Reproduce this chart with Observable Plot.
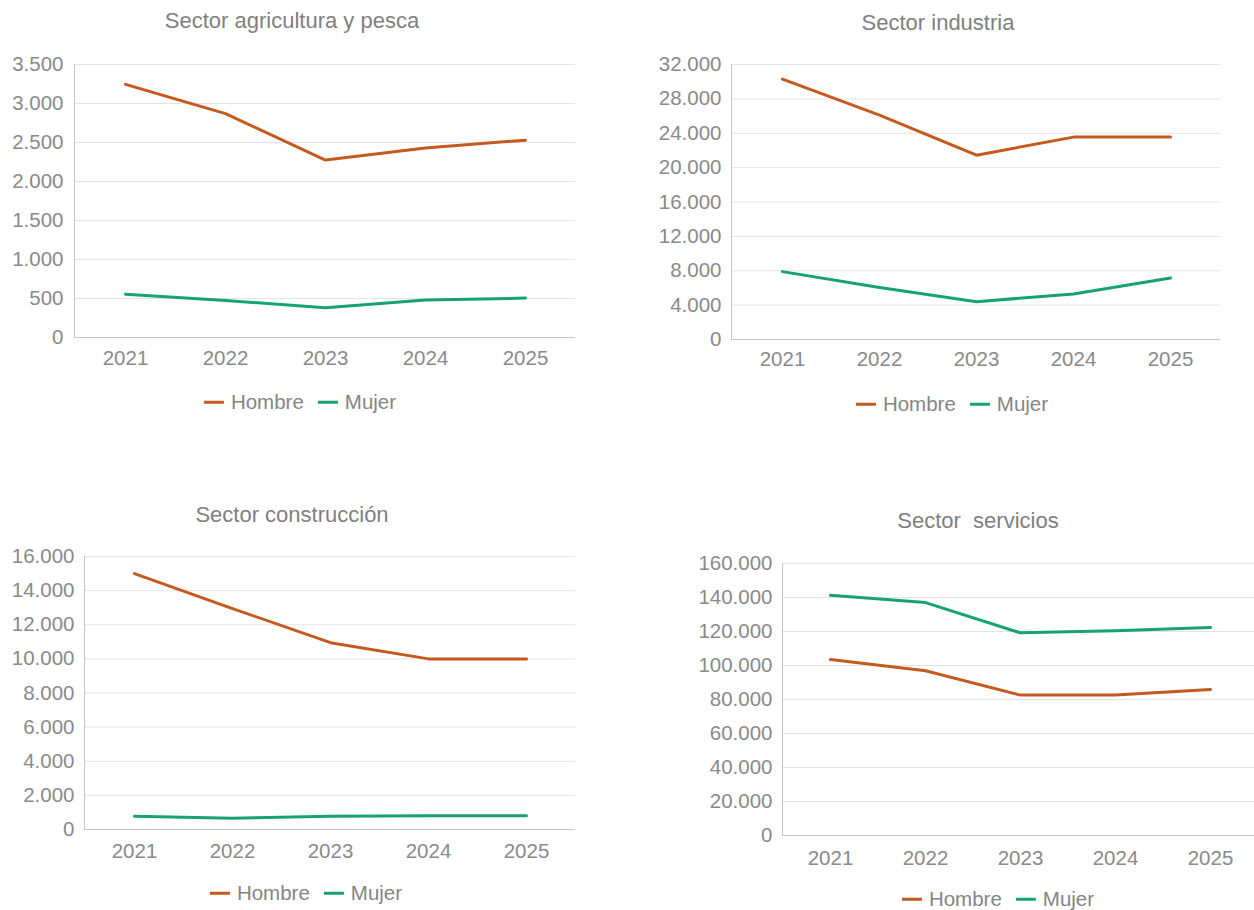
<!DOCTYPE html>
<html>
<head>
<meta charset="utf-8">
<script src="https://cdn.jsdelivr.net/npm/d3@7"></script>
<script src="https://cdn.jsdelivr.net/npm/@observablehq/plot@0.6"></script>
<style>
  html, body { margin: 0; padding: 0; background: #fff; overflow: hidden; }
  #root { position: relative; width: 1254px; height: 910px; font-family: "Liberation Sans", Arial, sans-serif; }
  .panel-svg { position: absolute; }
  .title { position: absolute; transform: translate(-50%, -50%); font-size: 22px; line-height: 1; color: #808080; white-space: pre; }
  .legend { position: absolute; transform: translate(-50%, -50%); display: flex; align-items: center; font-size: 20.5px; line-height: 1; color: #858585; white-space: nowrap; }
  .legend .sw { display: inline-block; width: 20px; height: 3px; margin-right: 7px; }
  .legend .item { display: flex; align-items: center; margin-right: 14px; }
  .legend .item:last-child { margin-right: 0; }
</style>
</head>
<body>
<div id="root"></div>
<script>
// ---- data ----
const years = ["2021", "2022", "2023", "2024", "2025"];
const series = ["Hombre", "Mujer"];
const seriesColors = ["#c55a1e", "#17a274"];

const titles = ["Sector agricultura y pesca", "Sector industria", "Sector construcción", "Sector  servicios"];

const agriculturaHombre = [3245, 2870, 2275, 2430, 2530];
const agriculturaMujer = [555, 475, 380, 480, 505];
const agriculturaTicks = [0, 500, 1000, 1500, 2000, 2500, 3000, 3500];

const industriaHombre = [30300, 26100, 21450, 23550, 23550];
const industriaMujer = [7900, 6050, 4400, 5300, 7150];
const industriaTicks = [0, 4000, 8000, 12000, 16000, 20000, 24000, 28000, 32000];

const construccionHombre = [15000, 12950, 10950, 10000, 10000];
const construccionMujer = [780, 660, 780, 800, 800];
const construccionTicks = [0, 2000, 4000, 6000, 8000, 10000, 12000, 14000, 16000];

const serviciosHombre = [103500, 96900, 82600, 82600, 85900];
const serviciosMujer = [141300, 137000, 119200, 120400, 122300];
const serviciosTicks = [0, 20000, 40000, 60000, 80000, 100000, 120000, 140000, 160000];

// ---- rendering ----
const fmt = d3.formatLocale({decimal: ",", thousands: ".", grouping: [3], currency: ["", "€"]}).format(",d");
const root = document.getElementById("root");

function buildPanel(cfg) {
  const data = years.flatMap((yr, i) => [
    {year: yr, sex: series[0], value: cfg.hombre[i]},
    {year: yr, sex: series[1], value: cfg.mujer[i]}
  ]);
  const ticks = cfg.ticks;
  const chart = Plot.plot({
    width: cfg.width,
    height: cfg.height,
    marginLeft: cfg.ml,
    marginRight: cfg.mr,
    marginTop: cfg.mt,
    marginBottom: cfg.mb,
    style: {fontFamily: '"Liberation Sans", Arial, sans-serif', fontSize: "20.5px", color: "#8a8a8a", background: "transparent", overflow: "visible"},
    x: {type: "point", domain: years, padding: 0.5, label: null},
    y: {domain: [0, ticks[ticks.length - 1]], label: null},
    color: {domain: series, range: seriesColors},
    marks: [
      Plot.gridY(ticks, {stroke: "#e4e4e4", strokeOpacity: 1, strokeWidth: 1}),
      Plot.frame({anchor: "left", stroke: "#c6c6c6"}),
      Plot.ruleY([0], {stroke: "#c6c6c6"}),
      Plot.axisY(ticks, {tickSize: 0, tickPadding: cfg.padY, tickFormat: fmt, label: null}),
      Plot.axisX({tickSize: 0, tickPadding: cfg.padX, label: null}),
      Plot.lineY(data, {x: "year", y: "value", stroke: "sex", strokeWidth: 3, strokeLinejoin: "round", strokeLinecap: "round"})
    ]
  });
  chart.classList.add("panel-svg");
  chart.style.left = cfg.left + "px";
  chart.style.top = cfg.top + "px";
  root.appendChild(chart);

  const t = document.createElement("div");
  t.className = "title";
  t.textContent = cfg.title;
  t.style.left = cfg.titleX + "px";
  t.style.top = cfg.titleY + "px";
  root.appendChild(t);

  const lg = document.createElement("div");
  lg.className = "legend";
  lg.style.left = cfg.legX + "px";
  lg.style.top = cfg.legY + "px";
  series.forEach((s, i) => {
    const it = document.createElement("span");
    it.className = "item";
    const sw = document.createElement("span");
    sw.className = "sw";
    sw.style.background = seriesColors[i];
    const tx = document.createElement("span");
    tx.textContent = s;
    it.appendChild(sw);
    it.appendChild(tx);
    lg.appendChild(it);
  });
  root.appendChild(lg);
}

buildPanel({title: titles[0], hombre: agriculturaHombre, mujer: agriculturaMujer, ticks: agriculturaTicks,
  left: 0, top: 40, width: 600, height: 340, ml: 74, mr: 25, mt: 24, mb: 43, padY: 11, padX: 13,
  titleX: 292, titleY: 21, legX: 300, legY: 402});

buildPanel({title: titles[1], hombre: industriaHombre, mujer: industriaMujer, ticks: industriaTicks,
  left: 640, top: 40, width: 590, height: 340, ml: 91, mr: 10, mt: 24, mb: 41, padY: 10, padX: 12,
  titleX: 938, titleY: 23, legX: 952, legY: 404});

buildPanel({title: titles[2], hombre: construccionHombre, mujer: construccionMujer, ticks: construccionTicks,
  left: 0, top: 530, width: 600, height: 340, ml: 84, mr: 25, mt: 26, mb: 41, padY: 10, padX: 14,
  titleX: 292, titleY: 515, legX: 306, legY: 893});

buildPanel({title: titles[3], hombre: serviciosHombre, mujer: serviciosMujer, ticks: serviciosTicks,
  left: 680, top: 540, width: 577, height: 340, ml: 102, mr: 0, mt: 23, mb: 45, padY: 10, padX: 15,
  titleX: 978, titleY: 521, legX: 998, legY: 899});
</script>
</body>
</html>
